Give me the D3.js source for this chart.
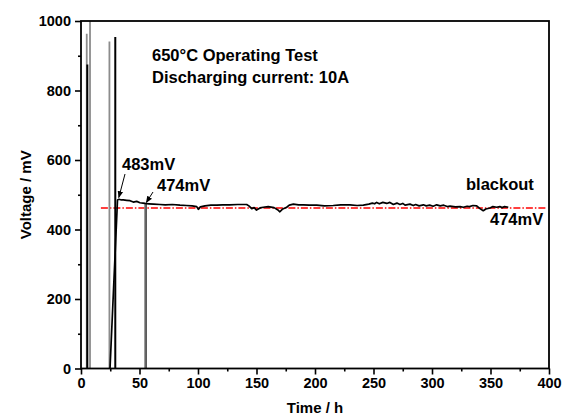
<!DOCTYPE html>
<html><head><meta charset="utf-8">
<script src="https://cdn.jsdelivr.net/npm/d3@7"></script>
<style>
body{margin:0;background:#fff;}
text{font-family:"Liberation Sans",Arial,sans-serif;font-weight:bold;}
</style></head>
<body><svg id="c" width="566" height="420"></svg>
<script>
// main discharge curve (time in h, voltage in mV)
const curveTimes = [24.8,31.2,32.5,34.5,36.2,39,41.9,44.7,47.6,50.4,53,54.7,58,62,67.5,72,78,84.6,90,95,98.9,100.3,102,106,111,116,121,127,134,141.6,143.5,145.9,148,150,153,155.8,160,165,168,170,172,175.8,178,181.5,186,190,195,201.5,208,215.6,222,229.9,236,241.3,246,249,251,252.7,255,258,261.3,264,267,270,272.6,275,277,281.2,284,286,289,292.6,295,298,301,304,307,310,313,315.4,320,324,326.8,330,332,335,338.2,341,343.8,346,349.6,352,355.3,358,360,362,365.2];
const curveVolts = [0,485,487,485,485,484,483,479,481,477,476,475,474,473,472,471,472,470,469,468,466,458,465,468,470,470,471,471,472,472,468,460,463,456,462,464,466,463,457,451,458,464,470,473,471,471,470,470,468,469,471,471,469,470,473,476,474,478,474,478,475,478,472,476,472,475,470,473,469,472,468,471,468,470,467,471,468,470,466,467,465,466,464,467,466,469,468,460,454,459,462,466,464,466,463,466,464];
// vertical excursions (time, peak mV), drawn from 0 to peak
const greySpikeTimes = [4.9, 7.7, 24.3, 55.0];
const greySpikePeaks = [963, 1100, 941, 475];
const blackSpikeTimes = [5.4, 29.3, 55.7];
const blackSpikePeaks = [875, 954, 475];
// reference level
const refLevel = 462, refStart = 17, refEnd = 397;
const xTicks = [0,50,100,150,200,250,300,350,400];
const yTicks = [0,200,400,600,800,1000];

const svg = d3.select("#c");
const x = d3.scaleLinear().domain([0,400]).range([81,549]);
const y = d3.scaleLinear().domain([0,1000]).range([368.5,21]);

svg.append("clipPath").attr("id","clip").append("rect")
  .attr("x",81).attr("y",21).attr("width",468).attr("height",347.5);
const g = svg.append("g").attr("clip-path","url(#clip)");

// reference dash-dot line
g.append("line").attr("x1",x(refStart)).attr("x2",x(refEnd))
  .attr("y1",y(refLevel)).attr("y2",y(refLevel))
  .attr("stroke","#ff0000").attr("stroke-width",1.5)
  .attr("stroke-dasharray","7,2,1.5,2");

// grey spikes
greySpikeTimes.forEach((t,i)=>{
  g.append("line").attr("x1",x(t)).attr("x2",x(t)).attr("y1",y(0)).attr("y2",y(greySpikePeaks[i]))
   .attr("stroke","#8c8c8c").attr("stroke-width",i===3?2.4:1.8);
});
// black spikes
blackSpikeTimes.forEach((t,i)=>{
  g.append("line").attr("x1",x(t)).attr("x2",x(t)).attr("y1",y(0)).attr("y2",y(blackSpikePeaks[i]))
   .attr("stroke","#000").attr("stroke-width",i===2?0.8:2);
});

// main curve
const pts = curveTimes.map((t,i)=>[t,curveVolts[i]]);
g.append("path").datum(pts)
  .attr("d", d3.line().x(d=>x(d[0])).y(d=>y(d[1])))
  .attr("fill","none").attr("stroke","#000").attr("stroke-width",1.7).attr("stroke-linejoin","round");

// axes
const tickFont = 14.5, titleFont = 15, noteFont = 16.5;
const xAxis = d3.axisBottom(x).tickValues(xTicks).tickSize(6).tickPadding(3).tickFormat(d3.format("d"));
const yAxis = d3.axisLeft(y).tickValues(yTicks).tickSize(6).tickPadding(4).tickFormat(d3.format("d"));
svg.append("g").attr("transform",`translate(0,${y(0)})`).call(xAxis);
svg.append("g").attr("transform",`translate(${x(0)},0)`).call(yAxis);
// minor ticks
const xMinor = d3.axisBottom(x).tickValues([25,75,125,175,225,275,325,375]).tickSize(3).tickFormat("");
const yMinor = d3.axisLeft(y).tickValues([100,300,500,700,900]).tickSize(3).tickFormat("");
svg.append("g").attr("transform",`translate(0,${y(0)})`).call(xMinor);
svg.append("g").attr("transform",`translate(${x(0)},0)`).call(yMinor);
svg.selectAll(".domain").remove();
svg.selectAll(".tick line").attr("stroke","#000").attr("stroke-width",1.6);
svg.selectAll(".tick text").attr("font-size",tickFont).attr("fill","#000")
  .attr("font-family","Liberation Sans, Arial, sans-serif").attr("font-weight","bold");

// frame
svg.append("rect").attr("x",x(0)).attr("y",y(1000)).attr("width",x(400)-x(0)).attr("height",y(0)-y(1000))
  .attr("fill","none").attr("stroke","#000").attr("stroke-width",1.8);

// axis titles
svg.append("text").attr("x",(x(0)+x(400))/2).attr("y",413).attr("text-anchor","middle")
  .attr("font-size",titleFont).text("Time / h");
svg.append("text").attr("transform",`translate(31,${(y(0)+y(1000))/2}) rotate(-90)`)
  .attr("text-anchor","middle").attr("font-size",titleFont).text("Voltage / mV");

// annotations
svg.append("text").attr("x",152).attr("y",61).attr("font-size",noteFont).text("650°C Operating Test");
svg.append("text").attr("x",152).attr("y",83).attr("font-size",noteFont).text("Discharging current: 10A");
svg.append("text").attr("x",122).attr("y",170).attr("font-size",noteFont).text("483mV");
svg.append("text").attr("x",157).attr("y",191).attr("font-size",noteFont).text("474mV");
svg.append("text").attr("x",466).attr("y",190).attr("font-size",noteFont).text("blackout");
svg.append("text").attr("x",490).attr("y",225).attr("font-size",noteFont).text("474mV");

// arrows
svg.append("defs").append("marker").attr("id","ah").attr("viewBox","0 0 10 10")
  .attr("refX",9).attr("refY",5).attr("markerWidth",7).attr("markerHeight",7)
  .attr("orient","auto").attr("markerUnits","userSpaceOnUse")
  .append("path").attr("d","M0,1 L10,5 L0,9 Z").attr("fill","#000");
[[125,174,118.8,197.5],[153,192,146.3,202.5]].forEach(a=>{
  svg.append("line").attr("x1",a[0]).attr("y1",a[1]).attr("x2",a[2]).attr("y2",a[3])
    .attr("stroke","#000").attr("stroke-width",1).attr("marker-end","url(#ah)");
});
</script></body></html>
